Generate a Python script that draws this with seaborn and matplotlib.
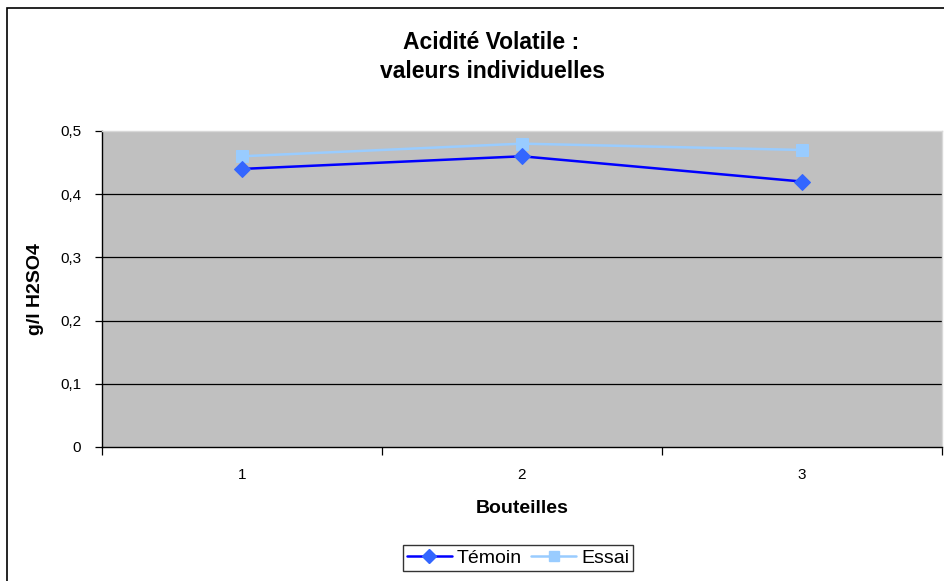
import matplotlib
matplotlib.use("Agg")
import matplotlib.pyplot as plt
import seaborn as sns
import pandas as pd
from matplotlib.patches import Rectangle
from matplotlib.lines import Line2D

# -------------------------------
# Données
# -------------------------------
bouteilles = [1, 2, 3]
temoin = [0.44, 0.46, 0.42]
essai = [0.46, 0.48, 0.47]
y_ticks = [0, 0.1, 0.2, 0.3, 0.4, 0.5]
y_labels = ["0", "0,1", "0,2", "0,3", "0,4", "0,5"]

df = pd.DataFrame({"Bouteilles": bouteilles, "Témoin": temoin, "Essai": essai})

sns.set_style("white")
plt.rcParams["font.family"] = ["Liberation Sans", "DejaVu Sans"]
plt.rcParams["text.color"] = "black"
plt.rcParams["xtick.color"] = "black"
plt.rcParams["ytick.color"] = "black"

fig = plt.figure(figsize=(9.44, 5.81), dpi=100)
ax = fig.add_axes([102 / 944, 1 - 447 / 581, 840 / 944, 316 / 581])
ax.set_facecolor("#C0C0C0")

# cadre du graphique
fig.patches.append(Rectangle((7 / 944, -0.1), 1.2, 1 - 8 / 581 + 0.1,
                             transform=fig.transFigure, fill=False,
                             edgecolor="black", linewidth=1.2, clip_on=False))

for y in y_ticks[1:-1]:
    ax.axhline(y, color="black", linewidth=0.9, zorder=1)

sns.lineplot(data=df, x="Bouteilles", y="Témoin", ax=ax, color="#0000FF",
             linewidth=1.8, marker="D", markersize=8,
             markerfacecolor="#3366FF", markeredgecolor="#3366FF", zorder=3)
sns.lineplot(data=df, x="Bouteilles", y="Essai", ax=ax, color="#99CCFF",
             linewidth=1.8, marker="s", markersize=8,
             markerfacecolor="#99CCFF", markeredgecolor="#99CCFF", zorder=2)

ax.set_xlim(0.5, 3.5)
ax.set_ylim(0, 0.5)
ax.set_xticks(bouteilles)
ax.set_xticklabels([str(b) for b in bouteilles], fontsize=11)
ax.set_xticks([0.5, 1.5, 2.5, 3.5], minor=True)
ax.tick_params(axis="x", which="major", length=0, pad=15)
ax.tick_params(axis="x", which="minor", bottom=True, length=6, width=0.9,
               direction="out", color="black")
ax.set_yticks(y_ticks)
ax.set_yticklabels(y_labels, fontsize=11)
ax.tick_params(axis="y", length=5, width=0.9, direction="out",
               color="black", left=True, pad=10)

for side in ["left", "bottom"]:
    ax.spines[side].set_color("black")
    ax.spines[side].set_linewidth(1.0)
for side in ["top", "right"]:
    ax.spines[side].set_color("#D8D8D8")
    ax.spines[side].set_linewidth(1.0)

ax.set_xlabel("")
ax.set_ylabel("")
fig.text(522 / 944, 1 - 513 / 581, "Bouteilles", ha="center", va="baseline",
         fontsize=14, fontweight="bold")
fig.text(36 / 944, 1 - 289 / 581, "g/l H2SO4", ha="center", va="center",
         rotation=90, fontsize=14, fontweight="bold")

fig.text(491 / 944, 1 - 49 / 581, "Acidité Volatile :", ha="center",
         va="baseline", fontsize=16.5, fontweight="bold")
fig.text(493 / 944, 1 - 78 / 581, "valeurs individuelles", ha="center",
         va="baseline", fontsize=16.5, fontweight="bold")

handles = [
    Line2D([], [], color="#0000FF", linewidth=1.8, marker="D", markersize=7,
           markerfacecolor="#3366FF", markeredgecolor="#3366FF"),
    Line2D([], [], color="#99CCFF", linewidth=1.8, marker="s", markersize=7,
           markerfacecolor="#99CCFF", markeredgecolor="#99CCFF"),
]
leg = fig.legend(handles, ["Témoin", "Essai"], loc="center",
                 bbox_to_anchor=(518 / 944, 1 - 558 / 581), ncol=2,
                 fontsize=14, frameon=True, fancybox=False, edgecolor="black",
                 handlelength=2.3, handletextpad=0.25, columnspacing=0.5,
                 borderpad=0.2, borderaxespad=0)
leg.get_frame().set_linewidth(1.0)

fig.savefig("out.png", dpi=100)
